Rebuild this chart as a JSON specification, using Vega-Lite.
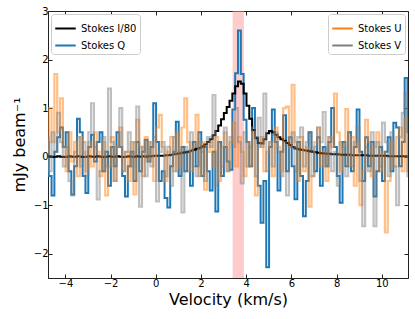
{
  "$schema": "https://vega.github.io/schema/vega-lite/v6.json",
  "width": 360,
  "height": 267,
  "autosize": "none",
  "padding": {"left": 48, "top": 11, "right": 7, "bottom": 41},
  "config": {
    "font": "DejaVu Sans",
    "view": {"stroke": "#222", "strokeWidth": 1},
    "axis": {
      "grid": false,
      "domainColor": "#222",
      "tickColor": "#222",
      "tickSize": -4,
      "labelFontSize": 10,
      "labelColor": "#000",
      "titleFontSize": 16,
      "titleFontWeight": "normal",
      "titleColor": "#000",
      "labelPadding": 4
    },
    "legend": {
      "labelFontSize": 10,
      "labelColor": "#000",
      "symbolType": "stroke",
      "symbolSize": 420,
      "symbolStrokeWidth": 2,
      "symbolOpacity": 1,
      "strokeColor": "#cccccc",
      "fillColor": "rgba(255,255,255,0.85)",
      "cornerRadius": 3,
      "padding": 3,
      "rowPadding": -5,
      "offset": 3,
      "title": null
    }
  },
  "data": {"values": [
    {"v":-4.8,"I":0.0,"Q":0.3,"U":0.1,"V":0.4},
    {"v":-4.675,"I":0.01,"Q":-0.4,"U":1.0,"V":-0.3},
    {"v":-4.55,"I":-0.01,"Q":-0.8,"U":0.3,"V":0.5},
    {"v":-4.425,"I":0.0,"Q":0.1,"U":1.7,"V":0.1},
    {"v":-4.3,"I":0.01,"Q":0.4,"U":0.5,"V":0.9},
    {"v":-4.175,"I":0.0,"Q":0.6,"U":1.2,"V":0.3},
    {"v":-4.05,"I":-0.01,"Q":0.2,"U":0.2,"V":-0.2},
    {"v":-3.925,"I":0.0,"Q":0.5,"U":-0.3,"V":0.2},
    {"v":-3.8,"I":0.01,"Q":-0.3,"U":0.5,"V":-0.5},
    {"v":-3.675,"I":0.0,"Q":-0.78,"U":-0.1,"V":-0.8},
    {"v":-3.55,"I":0.0,"Q":-0.2,"U":0.3,"V":0.1},
    {"v":-3.425,"I":0.01,"Q":0.78,"U":-0.4,"V":0.4},
    {"v":-3.3,"I":0.0,"Q":0.5,"U":0.4,"V":-0.2},
    {"v":-3.175,"I":-0.01,"Q":-0.4,"U":0.1,"V":0.3},
    {"v":-3.05,"I":0.0,"Q":-0.75,"U":-0.3,"V":-0.4},
    {"v":-2.925,"I":0.01,"Q":0.2,"U":0.3,"V":0.5},
    {"v":-2.8,"I":0.0,"Q":0.45,"U":-0.2,"V":1.1},
    {"v":-2.675,"I":0.0,"Q":-0.1,"U":0.5,"V":0.2},
    {"v":-2.55,"I":0.01,"Q":0.3,"U":0.1,"V":-0.88},
    {"v":-2.425,"I":0.0,"Q":0.5,"U":-0.4,"V":-0.3},
    {"v":-2.3,"I":-0.01,"Q":-0.3,"U":0.3,"V":0.4},
    {"v":-2.175,"I":0.0,"Q":0.1,"U":-0.8,"V":-0.2},
    {"v":-2.05,"I":0.01,"Q":-0.6,"U":-0.2,"V":1.4},
    {"v":-1.925,"I":0.0,"Q":0.2,"U":0.4,"V":0.3},
    {"v":-1.8,"I":0.0,"Q":-0.2,"U":-0.5,"V":-0.5},
    {"v":-1.675,"I":0.01,"Q":0.5,"U":0.2,"V":0.2},
    {"v":-1.55,"I":0.0,"Q":0.2,"U":0.6,"V":1.0},
    {"v":-1.425,"I":-0.01,"Q":-0.4,"U":-0.3,"V":-0.3},
    {"v":-1.3,"I":0.0,"Q":-0.82,"U":0.1,"V":0.1},
    {"v":-1.175,"I":0.01,"Q":-0.2,"U":-0.5,"V":0.5},
    {"v":-1.05,"I":0.0,"Q":0.1,"U":0.3,"V":-0.2},
    {"v":-0.925,"I":0.0,"Q":-0.5,"U":-0.78,"V":0.3},
    {"v":-0.8,"I":0.01,"Q":0.3,"U":0.76,"V":1.03},
    {"v":-0.675,"I":0.0,"Q":-0.3,"U":0.2,"V":-1.03},
    {"v":-0.55,"I":0.01,"Q":0.1,"U":-0.4,"V":0.2},
    {"v":-0.425,"I":0.0,"Q":0.35,"U":0.4,"V":-0.4},
    {"v":-0.3,"I":0.01,"Q":-0.1,"U":-0.1,"V":0.3},
    {"v":-0.175,"I":0.01,"Q":0.2,"U":0.3,"V":-0.2},
    {"v":-0.05,"I":0.02,"Q":1.1,"U":-0.5,"V":0.4},
    {"v":0.075,"I":0.02,"Q":0.3,"U":0.6,"V":-0.92},
    {"v":0.2,"I":0.02,"Q":-0.5,"U":0.86,"V":0.1},
    {"v":0.325,"I":0.02,"Q":-0.3,"U":0.2,"V":0.3},
    {"v":0.45,"I":0.03,"Q":-0.85,"U":-0.5,"V":-0.4},
    {"v":0.575,"I":0.03,"Q":-1.05,"U":0.1,"V":0.2},
    {"v":0.7,"I":0.04,"Q":-0.2,"U":0.4,"V":-0.6},
    {"v":0.825,"I":0.05,"Q":0.1,"U":-0.3,"V":0.4},
    {"v":0.95,"I":0.06,"Q":0.72,"U":0.5,"V":-0.3},
    {"v":1.075,"I":0.07,"Q":-0.4,"U":-0.2,"V":0.1},
    {"v":1.2,"I":0.08,"Q":0.2,"U":0.6,"V":-1.15},
    {"v":1.325,"I":0.09,"Q":-0.3,"U":1.2,"V":0.2},
    {"v":1.45,"I":0.1,"Q":0.1,"U":0.3,"V":-0.3},
    {"v":1.575,"I":0.12,"Q":-0.6,"U":-0.3,"V":0.5},
    {"v":1.7,"I":0.14,"Q":0.3,"U":0.2,"V":-0.2},
    {"v":1.825,"I":0.16,"Q":-0.2,"U":0.86,"V":-0.4},
    {"v":1.95,"I":0.18,"Q":0.5,"U":-0.4,"V":0.3},
    {"v":2.075,"I":0.21,"Q":-0.4,"U":0.3,"V":0.1},
    {"v":2.2,"I":0.25,"Q":0.2,"U":-0.68,"V":-0.5},
    {"v":2.325,"I":0.3,"Q":-0.3,"U":0.1,"V":0.4},
    {"v":2.45,"I":0.36,"Q":-0.7,"U":0.3,"V":0.2},
    {"v":2.575,"I":0.44,"Q":0.1,"U":-0.2,"V":1.27},
    {"v":2.7,"I":0.53,"Q":-1.13,"U":0.4,"V":-0.6},
    {"v":2.825,"I":0.64,"Q":0.3,"U":-0.5,"V":0.3},
    {"v":2.95,"I":0.77,"Q":-0.4,"U":0.2,"V":-0.2},
    {"v":3.075,"I":0.9,"Q":0.2,"U":0.5,"V":0.6},
    {"v":3.2,"I":1.02,"Q":-0.1,"U":-0.3,"V":-0.3},
    {"v":3.325,"I":1.15,"Q":-0.27,"U":0.3,"V":0.4},
    {"v":3.45,"I":1.3,"Q":0.97,"U":0.7,"V":0.2},
    {"v":3.575,"I":1.45,"Q":1.72,"U":-0.2,"V":1.0},
    {"v":3.7,"I":1.55,"Q":2.6,"U":0.4,"V":0.3},
    {"v":3.825,"I":1.5,"Q":1.7,"U":0.1,"V":-0.55},
    {"v":3.95,"I":1.3,"Q":0.76,"U":-0.4,"V":0.5},
    {"v":4.075,"I":1.05,"Q":0.3,"U":0.3,"V":-0.2},
    {"v":4.2,"I":0.78,"Q":-0.2,"U":-0.2,"V":0.2},
    {"v":4.325,"I":0.55,"Q":1.0,"U":0.5,"V":0.6},
    {"v":4.45,"I":0.38,"Q":0.4,"U":-0.8,"V":-0.4},
    {"v":4.575,"I":0.28,"Q":-0.6,"U":0.2,"V":0.8},
    {"v":4.7,"I":0.27,"Q":-1.36,"U":0.4,"V":0.2},
    {"v":4.825,"I":0.36,"Q":-0.5,"U":-0.3,"V":1.3},
    {"v":4.95,"I":0.48,"Q":-2.28,"U":0.1,"V":-0.3},
    {"v":5.075,"I":0.53,"Q":0.2,"U":0.3,"V":0.3},
    {"v":5.2,"I":0.5,"Q":0.97,"U":-0.4,"V":-0.2},
    {"v":5.325,"I":0.45,"Q":0.3,"U":0.6,"V":0.5},
    {"v":5.45,"I":0.4,"Q":-0.7,"U":0.2,"V":0.1},
    {"v":5.575,"I":0.36,"Q":0.1,"U":-0.3,"V":-0.4},
    {"v":5.7,"I":0.32,"Q":0.85,"U":1.0,"V":0.3},
    {"v":5.825,"I":0.28,"Q":-0.3,"U":1.03,"V":-0.8},
    {"v":5.95,"I":0.24,"Q":0.4,"U":0.2,"V":0.2},
    {"v":6.075,"I":0.2,"Q":-0.2,"U":1.48,"V":0.5},
    {"v":6.2,"I":0.17,"Q":-0.88,"U":0.3,"V":-0.3},
    {"v":6.325,"I":0.15,"Q":0.3,"U":-0.5,"V":0.4},
    {"v":6.45,"I":0.14,"Q":-0.4,"U":0.4,"V":0.6},
    {"v":6.575,"I":0.13,"Q":-1.23,"U":-0.3,"V":-0.2},
    {"v":6.7,"I":0.12,"Q":-0.5,"U":0.2,"V":0.3},
    {"v":6.825,"I":0.11,"Q":0.5,"U":-1.03,"V":0.5},
    {"v":6.95,"I":0.1,"Q":0.1,"U":-0.4,"V":-0.4},
    {"v":7.075,"I":0.09,"Q":-0.3,"U":0.3,"V":0.2},
    {"v":7.2,"I":0.08,"Q":0.4,"U":0.6,"V":0.6},
    {"v":7.325,"I":0.07,"Q":-0.6,"U":-0.2,"V":0.3},
    {"v":7.45,"I":0.07,"Q":0.2,"U":0.1,"V":0.92},
    {"v":7.575,"I":0.06,"Q":-0.2,"U":-0.5,"V":-0.2},
    {"v":7.7,"I":0.06,"Q":0.3,"U":0.4,"V":0.4},
    {"v":7.825,"I":0.05,"Q":1.0,"U":0.2,"V":-0.3},
    {"v":7.95,"I":0.05,"Q":0.2,"U":1.3,"V":0.1},
    {"v":8.075,"I":0.05,"Q":-0.4,"U":0.5,"V":-0.6},
    {"v":8.2,"I":0.04,"Q":-0.95,"U":-0.3,"V":0.3},
    {"v":8.325,"I":0.04,"Q":0.3,"U":0.2,"V":0.2},
    {"v":8.45,"I":0.04,"Q":-0.2,"U":0.98,"V":-0.4},
    {"v":8.575,"I":0.04,"Q":0.5,"U":-0.2,"V":0.5},
    {"v":8.7,"I":0.03,"Q":-0.3,"U":0.4,"V":-0.2},
    {"v":8.825,"I":0.03,"Q":0.2,"U":-0.6,"V":0.3},
    {"v":8.95,"I":0.03,"Q":0.97,"U":0.3,"V":0.6},
    {"v":9.075,"I":0.03,"Q":0.1,"U":-1.0,"V":-0.5},
    {"v":9.2,"I":0.03,"Q":-0.5,"U":-0.3,"V":-1.43},
    {"v":9.325,"I":0.03,"Q":0.4,"U":0.76,"V":0.2},
    {"v":9.45,"I":0.02,"Q":-0.2,"U":0.3,"V":-0.3},
    {"v":9.575,"I":0.02,"Q":0.3,"U":-0.4,"V":0.5},
    {"v":9.7,"I":0.02,"Q":-0.82,"U":0.2,"V":-1.43},
    {"v":9.825,"I":0.02,"Q":-0.3,"U":0.5,"V":0.3},
    {"v":9.95,"I":0.02,"Q":0.2,"U":-0.3,"V":-0.2},
    {"v":10.075,"I":0.02,"Q":-0.5,"U":0.1,"V":0.7},
    {"v":10.2,"I":0.02,"Q":0.1,"U":-1.56,"V":0.3},
    {"v":10.325,"I":0.01,"Q":0.4,"U":-0.5,"V":-0.4},
    {"v":10.45,"I":0.01,"Q":-0.3,"U":0.3,"V":0.5},
    {"v":10.575,"I":0.01,"Q":0.7,"U":-0.2,"V":-0.2},
    {"v":10.7,"I":0.01,"Q":0.6,"U":0.4,"V":-1.0},
    {"v":10.825,"I":0.01,"Q":-0.2,"U":0.6,"V":0.4},
    {"v":10.95,"I":0.01,"Q":0.3,"U":-0.3,"V":0.9},
    {"v":11.075,"I":0.01,"Q":1.62,"U":0.8,"V":1.3},
    {"v":11.2,"I":0.01,"Q":0.5,"U":-0.3,"V":-0.4}
  ]},
  "layer": [
    {
      "data": {"values": [{"a": 3.4, "b": 3.9, "lo": -2.5, "hi": 3}]},
      "mark": {"type": "rect", "color": "#ff9999", "opacity": 0.5},
      "encoding": {
        "x": {"field": "a", "type": "quantitative", "scale": {"domain": [-4.77, 11.16], "nice": false, "zero": false},
              "axis": {"orient": "top", "labels": false, "title": null, "values": [-4, -2, 0, 2, 4, 6, 8, 10], "domain": false}},
        "x2": {"field": "b"},
        "y": {"field": "lo", "type": "quantitative", "scale": {"domain": [-2.5, 3], "nice": false, "zero": false},
              "axis": {"orient": "right", "labels": false, "title": null, "values": [-2, -1, 0, 1, 2, 3], "domain": false}},
        "y2": {"field": "hi"}
      }
    },
    {
      "layer": [
        {
          "mark": {"type": "line", "interpolate": "step", "strokeWidth": 2, "clip": true},
          "encoding": {
            "x": {"field": "v", "type": "quantitative"},
            "y": {"field": "Q", "type": "quantitative"},
            "color": {"datum": "Stokes Q"}
          }
        },
        {
          "mark": {"type": "line", "interpolate": "step", "strokeWidth": 2, "clip": true},
          "encoding": {
            "x": {"field": "v", "type": "quantitative"},
            "y": {"field": "I", "type": "quantitative"},
            "color": {"datum": "Stokes I/80"}
          }
        }
      ],
      "encoding": {
        "x": {"field": "v", "type": "quantitative", "title": "Velocity (km/s)",
              "axis": {"orient": "bottom", "values": [-4, -2, 0, 2, 4, 6, 8, 10], "titlePadding": 3}},
        "y": {"type": "quantitative", "title": "mJy beam⁻¹",
              "axis": {"orient": "left", "values": [-2, -1, 0, 1, 2, 3], "titlePadding": 6}},
        "color": {"type": "nominal",
                  "scale": {"domain": ["Stokes I/80", "Stokes Q"], "range": ["#000000", "#1f77b4"]},
                  "legend": {"orient": "top-left"}}
      }
    },
    {
      "layer": [
        {
          "mark": {"type": "line", "interpolate": "step", "strokeWidth": 2.2, "opacity": 0.5, "clip": true},
          "encoding": {
            "x": {"field": "v", "type": "quantitative", "axis": null},
            "y": {"field": "U", "type": "quantitative", "axis": null},
            "color": {"datum": "Stokes U"}
          }
        },
        {
          "mark": {"type": "line", "interpolate": "step", "strokeWidth": 2.2, "opacity": 0.5, "clip": true},
          "encoding": {
            "x": {"field": "v", "type": "quantitative", "axis": null},
            "y": {"field": "V", "type": "quantitative", "axis": null},
            "color": {"datum": "Stokes V"}
          }
        }
      ],
      "encoding": {
        "color": {"type": "nominal",
                  "scale": {"domain": ["Stokes U", "Stokes V"], "range": ["#ff7f0e", "#7f7f7f"]},
                  "legend": {"orient": "top-right", "symbolOpacity": 1}}
      }
    }
  ],
  "resolve": {"scale": {"color": "independent"}, "axis": {"x": "independent", "y": "independent"}}
}
